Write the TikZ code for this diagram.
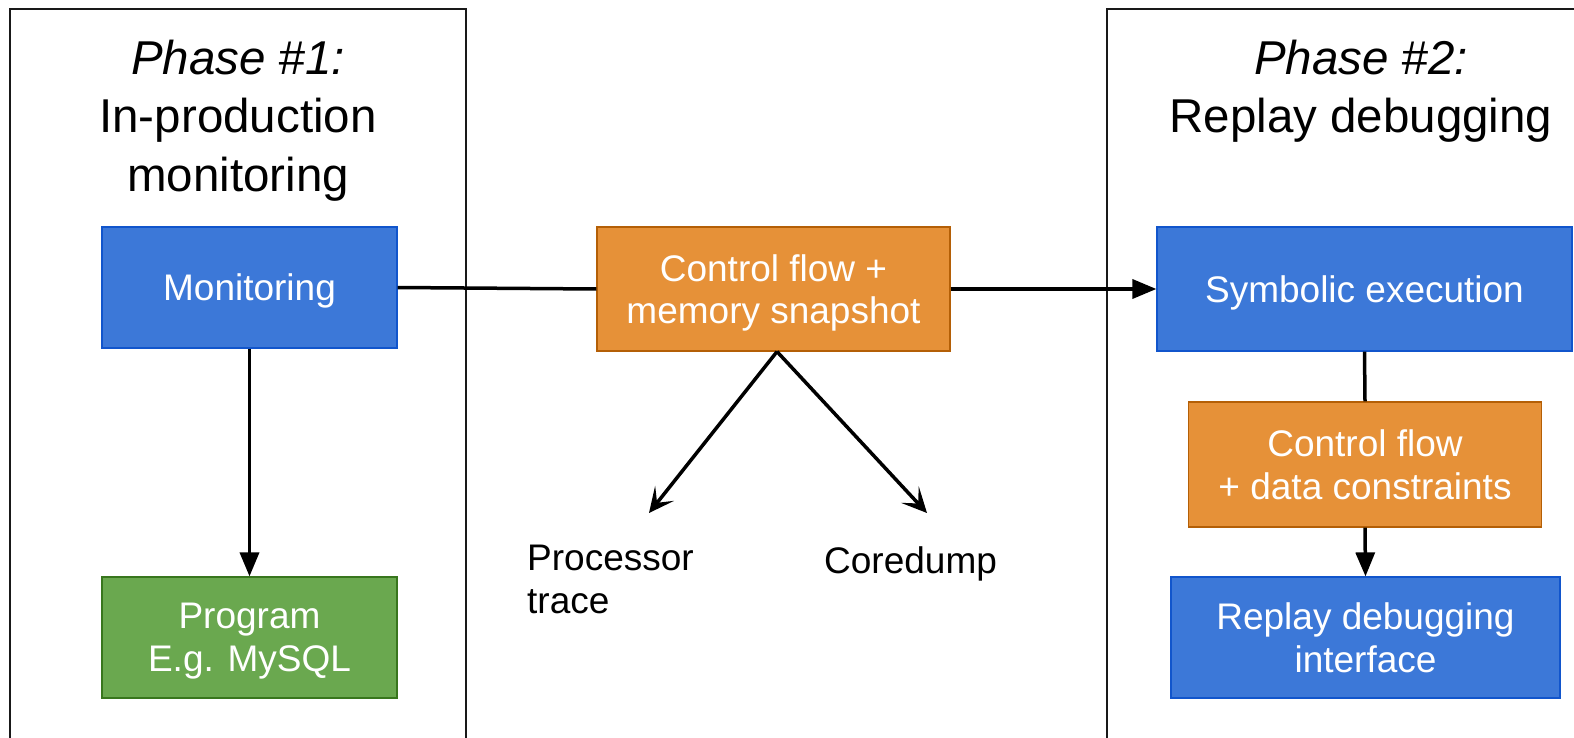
\documentclass[tikz,border=0pt]{standalone}
\usepackage{fontspec}
\setmainfont{Liberation Sans}
\usetikzlibrary{arrows.meta}
\definecolor{bluefill}{HTML}{3C78D8}
\definecolor{blueline}{HTML}{1155CC}
\definecolor{orangefill}{HTML}{E69138}
\definecolor{orangeline}{HTML}{B45F06}
\definecolor{greenfill}{HTML}{6AA84F}
\definecolor{greenline}{HTML}{38761D}
\tikzset{
  box/.style={draw, line width=1.2pt, inner sep=0pt, text=white,
    font=\fontsize{37}{42.5}\selectfont, align=center, text depth=0pt},
  bluebox/.style={box, fill=bluefill, draw=blueline},
  orangebox/.style={box, fill=orangefill, draw=orangeline},
  greenbox/.style={box, fill=greenfill, draw=greenline},
  phaseframe/.style={line width=2pt, draw=black!90},
  conn/.style={line width=3.5pt, draw=black},
  triarrow/.style={conn, -{Triangle[length=24pt,width=19pt]}},
  barbarrow/.style={conn, -{Stealth[length=25pt,width=24pt,inset=12pt]}},
  titletext/.style={anchor=base, inner sep=0pt, font=\fontsize{47.5}{58}\selectfont},
  plaintext/.style={inner sep=0pt, font=\fontsize{37}{42.5}\selectfont}
}
\begin{document}
\begin{tikzpicture}[x=1pt,y=-1pt]
\useasboundingbox (0,0) rectangle (1574,738);
% phase frames
\draw[phaseframe] (10,738) -- (10,9) -- (466,9) -- (466,738);
\draw[phaseframe] (1107,738) -- (1107,9) -- (1574,9);
% titles
\node[titletext] (ph1a) at (238,75) {\itshape Phase \#1:};
\node[titletext] (ph1b) at (238,133) {In-production};
\node[titletext] (ph1c) at (238,192) {monitoring};
\node[titletext] (ph2a) at (1361,75) {\itshape Phase \#2:};
\node[titletext] (ph2b) at (1361,133) {Replay debugging};
% boxes
\node[bluebox, minimum width=295pt, minimum height=121pt] (mon) at (249.5,287.5) {Monitoring};
\node[greenbox, minimum width=295pt, minimum height=121pt] (prog) at (249.5,637.5) {Program\\E.g. MySQL};
\node[orangebox, minimum width=353pt, minimum height=124pt] (snap) at (773.5,289) {Control flow +\\memory snapshot};
\node[bluebox, minimum width=415pt, minimum height=124pt] (sym) at (1364.5,289) {Symbolic execution};
\node[orangebox, minimum width=353pt, minimum height=125pt] (cons) at (1365,464.5) {Control flow\\+ data constraints};
\node[bluebox, minimum width=389pt, minimum height=121pt] (rep) at (1365.5,637.5) {Replay debugging\\interface};
% outputs
\node[plaintext, anchor=north west, align=left] (pt) at (527,545) {Processor\\trace};
\node[plaintext, anchor=base west] (cd) at (824,573) {Coredump};
\coordinate (ptend) at (649,513);
\coordinate (cdend) at (927,513);
% connectors
\draw[conn] (mon.east) -- (snap.west);
\draw[triarrow] (snap.east) -- (sym.west);
\draw[triarrow] (mon.south) -- (prog.north);
\draw[conn] (sym.south) -- (cons.north);
\draw[triarrow] (cons.south) -- (rep.north);
\draw[barbarrow] ([xshift=3.5pt]snap.south) -- (ptend);
\draw[barbarrow] ([xshift=3.5pt]snap.south) -- (cdend);
\end{tikzpicture}
\end{document}
